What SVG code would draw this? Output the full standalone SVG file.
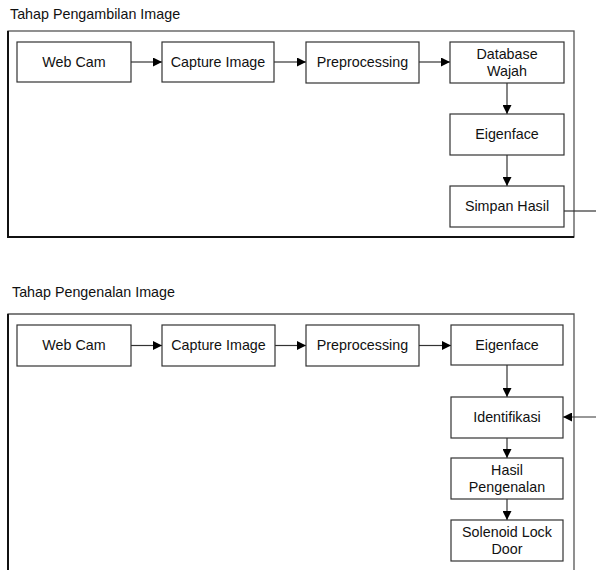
<svg xmlns="http://www.w3.org/2000/svg" width="596" height="570" viewBox="0 0 596 570">
<style>
text{font-family:"Liberation Sans",Arial,sans-serif;font-size:14.3px;fill:#111;text-anchor:middle}
.t{text-anchor:start}
.box{fill:#fff;stroke:#333;stroke-width:1.2}
.frame{fill:none;stroke:#555;stroke-width:1.3}
.edge{stroke:#111;stroke-width:2;fill:none}
.c{stroke:#333;stroke-width:1.2;fill:none}
.ca{stroke:#333;stroke-width:1.2;fill:none;marker-end:url(#ah)}
</style>
<defs>
<marker id="ah" viewBox="0 0 10 10" refX="10" refY="5" markerUnits="userSpaceOnUse" markerWidth="9" markerHeight="9" orient="auto">
<path d="M0,0 L10,5 L0,10 z" fill="#000"/>
</marker>
</defs>
<g id="frame-pengambilan">
<text class="t" x="10" y="19">Tahap Pengambilan Image</text>
<rect class="frame" x="8" y="31" width="566" height="206"/>
<path class="edge" d="M8,31 L8,237 L574,237"/>
</g>
<g id="frame-pengenalan">
<text class="t" x="12" y="297">Tahap Pengenalan Image</text>
<path class="frame" d="M8,572 L8,314 L574,314 L574,572"/>
<path class="edge" d="M8,314 L8,572"/>
</g>
<g id="connectors">
<line class="ca" x1="131" y1="62" x2="162" y2="62"/>
<line class="ca" x1="274" y1="62" x2="306" y2="62"/>
<line class="ca" x1="419" y1="62" x2="450" y2="62"/>
<line class="ca" x1="507" y1="83" x2="507" y2="114"/>
<line class="ca" x1="507" y1="155" x2="507" y2="186"/>
<line class="c" x1="564" y1="211" x2="596" y2="211"/>
<line class="ca" x1="131" y1="345.5" x2="162" y2="345.5"/>
<line class="ca" x1="275" y1="345.5" x2="306" y2="345.5"/>
<line class="ca" x1="419" y1="345.5" x2="451" y2="345.5"/>
<line class="ca" x1="507" y1="365" x2="507" y2="397"/>
<line class="ca" x1="596" y1="417" x2="563" y2="417"/>
<line class="ca" x1="507" y1="438" x2="507" y2="458"/>
<line class="ca" x1="507" y1="499" x2="507" y2="520"/>
</g>
<g id="webcam1"><rect class="box" x="17" y="42" width="114" height="40"/><text x="74" y="67">Web Cam</text></g>
<g id="capture1"><rect class="box" x="162" y="42" width="112" height="40"/><text x="218" y="67">Capture Image</text></g>
<g id="preprocessing1"><rect class="box" x="306" y="42" width="113" height="41"/><text x="362.5" y="67">Preprocessing</text></g>
<g id="database"><rect class="box" x="450" y="42" width="114" height="41"/><text x="507" y="58.5">Database</text><text x="507" y="75.5">Wajah</text></g>
<g id="eigenface1"><rect class="box" x="450" y="114" width="114" height="41"/><text x="507" y="139">Eigenface</text></g>
<g id="simpan"><rect class="box" x="450" y="186" width="114" height="41"/><text x="507" y="211">Simpan Hasil</text></g>
<g id="webcam2"><rect class="box" x="17" y="325" width="114" height="41"/><text x="74" y="350">Web Cam</text></g>
<g id="capture2"><rect class="box" x="162" y="325" width="113" height="41"/><text x="218.5" y="350">Capture Image</text></g>
<g id="preprocessing2"><rect class="box" x="306" y="325" width="113" height="41"/><text x="362.5" y="350">Preprocessing</text></g>
<g id="eigenface2"><rect class="box" x="451" y="325" width="112" height="40"/><text x="507" y="350">Eigenface</text></g>
<g id="identifikasi"><rect class="box" x="451" y="397" width="112" height="41"/><text x="507" y="422">Identifikasi</text></g>
<g id="hasil"><rect class="box" x="451" y="458" width="112" height="41"/><text x="507" y="475">Hasil</text><text x="507" y="492">Pengenalan</text></g>
<g id="solenoid"><rect class="box" x="451" y="520" width="112" height="41"/><text x="507" y="537">Solenoid Lock</text><text x="507" y="554">Door</text></g>
</svg>
